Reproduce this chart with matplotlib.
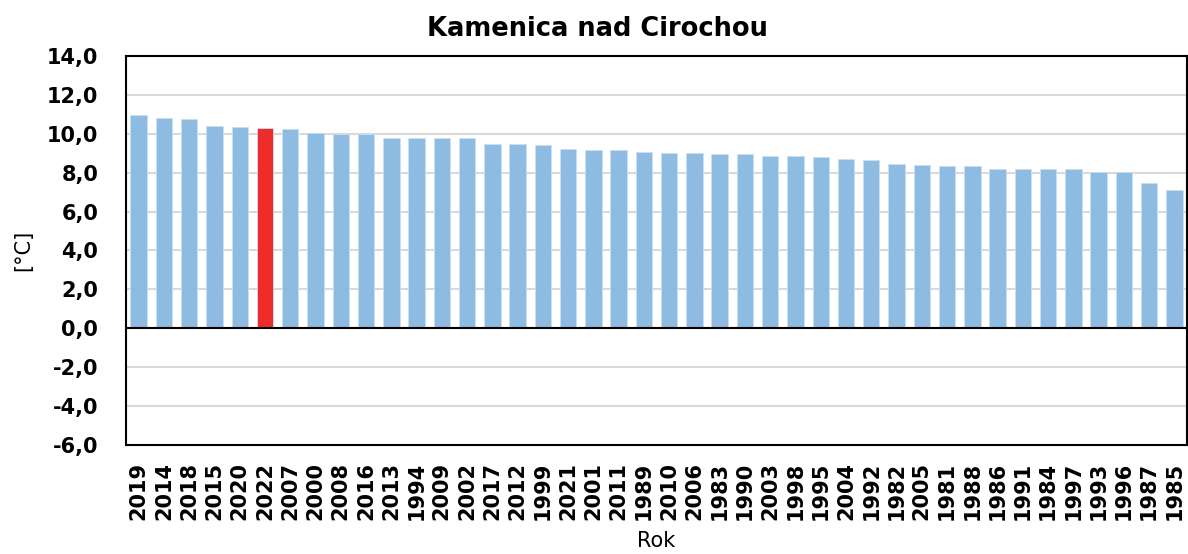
import matplotlib
matplotlib.use("Agg")
import matplotlib.pyplot as plt
import numpy as np

years = ["2019", "2014", "2018", "2015", "2020", "2022", "2007", "2000", "2008", "2016",
         "2013", "1994", "2009", "2002", "2017", "2012", "1999", "2021", "2001", "2011",
         "1989", "2010", "2006", "1983", "1990", "2003", "1998", "1995", "2004", "1992",
         "1982", "2005", "1981", "1988", "1986", "1991", "1984", "1997", "1993", "1996",
         "1987", "1985"]
temps = [10.97, 10.83, 10.74, 10.40, 10.34, 10.29, 10.24, 10.03, 10.00, 9.98,
         9.78, 9.76, 9.76, 9.76, 9.50, 9.47, 9.41, 9.21, 9.17, 9.17,
         9.08, 9.03, 9.00, 8.98, 8.97, 8.88, 8.84, 8.79, 8.72, 8.64,
         8.47, 8.41, 8.33, 8.33, 8.21, 8.21, 8.19, 8.17, 8.03, 8.02,
         7.47, 7.09]
highlight_year = "2022"
yticks = [-6, -4, -2, 0, 2, 4, 6, 8, 10, 12, 14]

blue = "#8EBBE2"
red = "#EE2D2B"

plt.rcParams['font.family'] = ['DejaVu Sans']

fig = plt.figure(figsize=(11.88, 5.54), dpi=100)
ax = fig.add_axes([0.1061, 0.1968, 0.8931, 0.7021])

x = np.arange(len(years))
colors = [red if y == highlight_year else blue for y in years]
ax.bar(x, temps, width=0.65, color=colors, edgecolor="#C9DFF2", linewidth=0.6, zorder=3)

ax.set_xlim(-0.5, len(years) - 0.5)
ax.set_ylim(-6, 14)
ax.set_yticks(yticks)
ax.set_yticklabels([f"{v:.1f}".replace(".", ",") for v in yticks],
                   fontsize=15, fontweight="bold")
ax.set_xticks(x)
ax.set_xticklabels(years, rotation=90, fontsize=15, fontweight="bold")
ax.tick_params(axis="both", length=0)
ax.tick_params(axis="y", pad=20)
ax.tick_params(axis="x", pad=12)

ax.yaxis.grid(True, color="#D9D9D9", linewidth=1.5, zorder=0)
ax.set_axisbelow(True)
ax.axhline(0, color="black", linewidth=1.5, zorder=4)
for s in ax.spines.values():
    s.set_linewidth(1.5)
    s.set_color("black")

ax.set_ylabel("[°C]", fontsize=15, labelpad=10)
ax.set_xlabel("Rok", fontsize=15, labelpad=8)
fig.text(0.503, 0.947, "Kamenica nad Cirochou", fontsize=18.5, fontweight="bold",
         ha="center", va="center")

fig.savefig("out.png", dpi=100)
